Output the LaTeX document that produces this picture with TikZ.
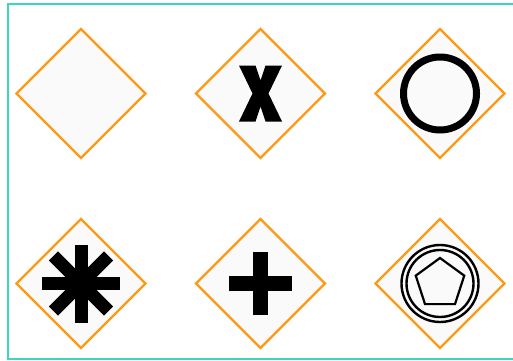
\documentclass[tikz,border=0pt]{standalone}
\usetikzlibrary{shapes.geometric}
\definecolor{teal1}{RGB}{60,214,188}
\definecolor{orng}{RGB}{255,153,20}
\definecolor{lightfill}{RGB}{250,250,250}
\begin{document}
\begin{tikzpicture}[x=1pt,y=-1pt,
  gateway/.style={diamond,draw=orng,fill=lightfill,line width=2.4pt,minimum width=129pt,minimum height=129pt,inner sep=0pt,outer sep=0pt,aspect=1},
  bar/.style={line width=14pt,line cap=butt,black}]
\useasboundingbox (0,0) rectangle (513,360);
\draw[teal1,line width=2.6pt] (8,4) rectangle (530,359);
\node[gateway] (g1) at (81,93.5) {};
\node[gateway] (g2) at (260.5,93.5) {};
\node[gateway] (g3) at (440,93.5) {};
\node[gateway] (g4) at (81,283.5) {};
\node[gateway] (g5) at (260.5,283.5) {};
\node[gateway] (g6) at (440,283.5) {};
% exclusive X
\begin{scope}[shift={(g2.center)}]
\fill[black] (-21.5,-28) -- (-5,-28) -- (0,-13) -- (5,-28) -- (21.5,-28) -- (8,0) -- (21.5,28) -- (5,28) -- (0,13) -- (-5,28) -- (-21.5,28) -- (-8,0) -- cycle;
\end{scope}
% inclusive circle
\begin{scope}[shift={(g3.center)}]
\draw[black,line width=7pt] (0,0) circle[radius=36.5];
\end{scope}
% complex asterisk
\begin{scope}[shift={(g4.center)}]
\foreach \a in {0,45,90,135}{\draw[bar,line width=13pt] (\a:-39) -- (\a:39);}
\end{scope}
% parallel plus
\begin{scope}[shift={(g5.center)}]
\draw[bar,line width=15pt] (0,-31.5) -- (0,31.5);
\draw[bar,line width=15pt] (-31.5,0) -- (31.5,0);
\end{scope}
% event-based
\begin{scope}[shift={(g6.center)}]
\draw[black,line width=2.4pt] (0,0) circle[radius=38.5];
\draw[black,line width=2.4pt] (0,0) circle[radius=33.5];
\draw[black,line width=2.2pt,line join=miter] (90:-25.5) -- (162:-25.5) -- (234:-25.5) -- (306:-25.5) -- (18:-25.5) -- cycle;
\end{scope}
\end{tikzpicture}
\end{document}
